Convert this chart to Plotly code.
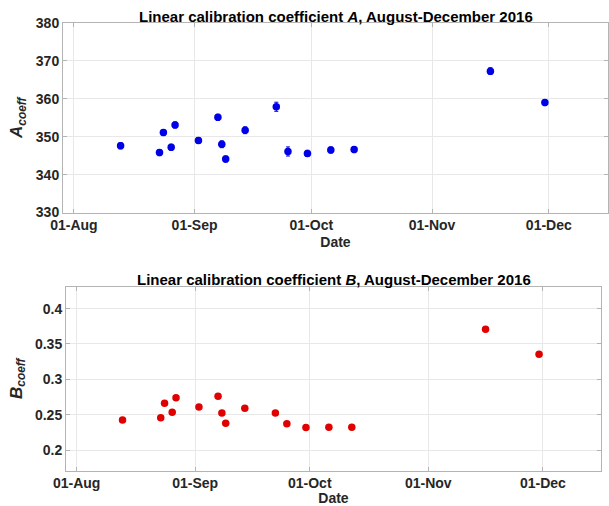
import plotly.graph_objects as go

dates = ["2016-08-13", "2016-08-23", "2016-08-24", "2016-08-26", "2016-08-27",
         "2016-09-02", "2016-09-07", "2016-09-08", "2016-09-09", "2016-09-14",
         "2016-09-22", "2016-09-25", "2016-09-30", "2016-10-06", "2016-10-12",
         "2016-11-16", "2016-11-30"]
a_coeff = [347.6, 345.8, 351.1, 347.2, 353.1, 349.0, 355.1, 348.0, 344.1, 351.7,
           357.9, 346.1, 345.6, 346.5, 346.6, 367.3, 359.0]
a_err = [0.8, 0.8, 0.8, 0.8, 0.8, 0.8, 0.8, 0.9, 0.8, 0.9,
         1.2, 1.2, 0.8, 0.8, 0.8, 0.9, 0.8]
b_coeff = [0.2425, 0.2458, 0.266, 0.2533, 0.274, 0.2608, 0.2759, 0.2524, 0.2377, 0.259,
           0.2524, 0.2373, 0.2318, 0.2321, 0.2321, 0.3708, 0.3355]
b_err = [0.002] * len(b_coeff)

tick_dates = ["2016-08-01", "2016-09-01", "2016-10-01", "2016-11-01", "2016-12-01"]
a_ticks = [330, 340, 350, 360, 370, 380]
b_ticks = [0.2, 0.25, 0.3, 0.35, 0.4]
x_range = ["2016-07-29 05:00", "2016-12-16 05:00"]

FONT = "Liberation Sans, Arial, sans-serif"
W, H = 609, 506

fig = go.Figure()
fig.add_trace(go.Scatter(
    x=dates, y=a_coeff, mode="markers",
    marker=dict(color="#0000e6", size=7.5),
    error_y=dict(type="data", array=a_err, color="#0000e6", thickness=1, width=2),
    xaxis="x", yaxis="y", showlegend=False))
fig.add_trace(go.Scatter(
    x=dates, y=b_coeff, mode="markers",
    marker=dict(color="#e00000", size=7.5),
    error_y=dict(type="data", array=b_err, color="#e00000", thickness=1, width=2),
    xaxis="x2", yaxis="y2", showlegend=False))

# pixel layout of axes boxes
top_box = (63, 608, 23, 212.5)
bot_box = (66, 601, 287, 470.5)

def xd(b):
    return [b[0] / W, b[1] / W]

def yd(b):
    return [(H - b[3]) / H, (H - b[2]) / H]

axis_common = dict(
    automargin=False,
    showline=True, linecolor="#b4b4b4", linewidth=1, mirror="ticks",
    showgrid=True, gridcolor="#e8e8e8", gridwidth=1,
    ticks="inside", ticklen=4, tickcolor="#b4b4b4",
    tickfont=dict(family=FONT, size=14, color="#262626", weight="bold"),
    zeroline=False,
)

xcommon = dict(axis_common, type="date", range=x_range, tickvals=tick_dates,
               tickformat="%d-%b",
               title=dict(text="Date", font=dict(family=FONT, size=14, color="#262626", weight="bold"),
                          standoff=4))

ytitle_font = dict(family=FONT, size=17, color="#262626", weight="bold")

fig.update_layout(
    template="none",
    width=W, height=H,
    margin=dict(l=0, r=0, t=0, b=0),
    paper_bgcolor="white", plot_bgcolor="white",
    xaxis=dict(xcommon, domain=xd(top_box), anchor="y"),
    yaxis=dict(axis_common, domain=yd(top_box), anchor="x", range=[330, 380], tickvals=a_ticks,
               title=dict(text="<i>A</i><sub><i>coeff</i></sub>", font=ytitle_font, standoff=8)),
    xaxis2=dict(xcommon, domain=xd(bot_box), anchor="y2"),
    yaxis2=dict(axis_common, domain=yd(bot_box), anchor="x2", range=[0.171, 0.4306],
                tickvals=b_ticks, tickformat="~g",
                title=dict(text="<i>B</i><sub><i>coeff</i></sub>", font=ytitle_font, standoff=8)),
    annotations=[
        dict(text="<b>Linear calibration coefficient <i>A</i>, August-December 2016</b>",
             x=(top_box[0] + top_box[1]) / 2 / W, y=(H - top_box[2]) / H,
             xref="paper", yref="paper", xanchor="center", yanchor="bottom",
             showarrow=False, font=dict(family=FONT, size=15, color="black"), yshift=-4),
        dict(text="<b>Linear calibration coefficient <i>B</i>, August-December 2016</b>",
             x=(bot_box[0] + bot_box[1]) / 2 / W, y=(H - bot_box[2]) / H,
             xref="paper", yref="paper", xanchor="center", yanchor="bottom",
             showarrow=False, font=dict(family=FONT, size=15, color="black"), yshift=-3),
    ],
)

fig.write_html("out.html")
